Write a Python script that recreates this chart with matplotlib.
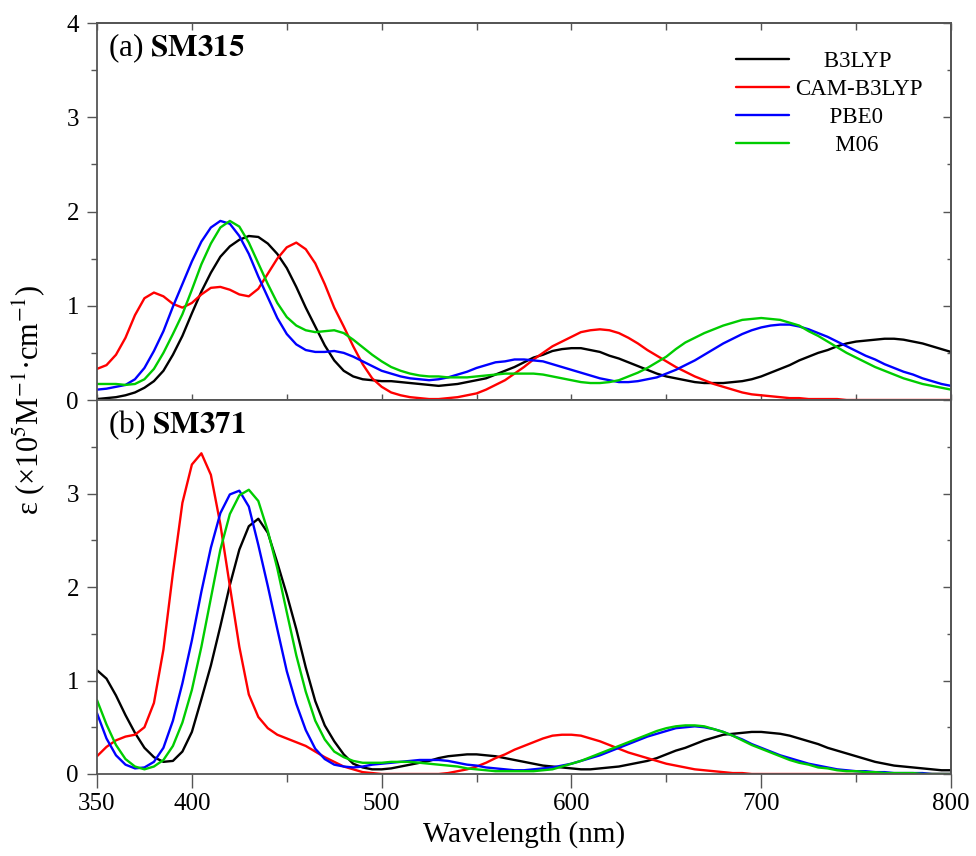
import numpy as np
import matplotlib
matplotlib.use("Agg")
import matplotlib.pyplot as plt
from matplotlib.ticker import MultipleLocator, FixedLocator

# ---------------- data ----------------
wavelength = np.arange(350, 801, 5)  # nm, 5 nm sampling grid

methods = ["B3LYP", "CAM-B3LYP", "PBE0", "M06"]
colors = ["#000000", "#ff0000", "#0000ff", "#00cc00"]

# (a) SM315  (x10^5 M^-1 cm^-1)
sm315_b3lyp = [
    0.01, 0.02, 0.03, 0.05, 0.08, 0.13, 0.20, 0.31, 0.48, 0.68,
    0.92, 1.15, 1.35, 1.52, 1.63, 1.70, 1.74, 1.73, 1.66, 1.55,
    1.40, 1.20, 0.98, 0.78, 0.58, 0.42, 0.31, 0.25, 0.22, 0.21,
    0.20, 0.20, 0.19, 0.18, 0.17, 0.16, 0.15, 0.16, 0.17, 0.19,
    0.21, 0.23, 0.27, 0.31, 0.35, 0.40, 0.45, 0.48, 0.52, 0.54,
    0.55, 0.55, 0.53, 0.51, 0.47, 0.44, 0.40, 0.36, 0.32, 0.28,
    0.25, 0.23, 0.21, 0.19, 0.18, 0.18, 0.18, 0.19, 0.20, 0.22,
    0.25, 0.29, 0.33, 0.37, 0.42, 0.46, 0.50, 0.53, 0.57, 0.60,
    0.62, 0.63, 0.64, 0.65, 0.65, 0.64, 0.62, 0.60, 0.57, 0.54,
    0.51]
sm315_camb3lyp = [
    0.33, 0.37, 0.48, 0.66, 0.90, 1.08, 1.14, 1.10, 1.02, 0.98,
    1.03, 1.12, 1.19, 1.20, 1.17, 1.12, 1.10, 1.18, 1.34, 1.50,
    1.62, 1.67, 1.60, 1.45, 1.23, 0.98, 0.78, 0.57, 0.38, 0.23,
    0.14, 0.08, 0.05, 0.03, 0.02, 0.01, 0.01, 0.02, 0.03, 0.05,
    0.07, 0.11, 0.16, 0.21, 0.28, 0.35, 0.43, 0.50, 0.57, 0.62,
    0.67, 0.72, 0.74, 0.75, 0.74, 0.71, 0.66, 0.60, 0.53, 0.47,
    0.41, 0.35, 0.30, 0.25, 0.21, 0.17, 0.14, 0.11, 0.08, 0.06,
    0.05, 0.04, 0.03, 0.02, 0.02, 0.01, 0.01, 0.01, 0.01, 0.00,
    0.00, 0.00, 0.00, 0.00, 0.00, 0.00, 0.00, 0.00, 0.00, 0.00,
    0.00]
sm315_pbe0 = [
    0.11, 0.12, 0.14, 0.16, 0.22, 0.34, 0.52, 0.73, 0.99, 1.23,
    1.47, 1.68, 1.83, 1.90, 1.87, 1.74, 1.55, 1.31, 1.09, 0.87,
    0.70, 0.59, 0.53, 0.51, 0.51, 0.52, 0.50, 0.46, 0.41, 0.36,
    0.31, 0.28, 0.25, 0.23, 0.22, 0.21, 0.22, 0.24, 0.27, 0.30,
    0.34, 0.37, 0.40, 0.41, 0.43, 0.43, 0.42, 0.41, 0.38, 0.35,
    0.32, 0.29, 0.26, 0.23, 0.21, 0.19, 0.19, 0.20, 0.22, 0.24,
    0.28, 0.32, 0.37, 0.42, 0.48, 0.54, 0.60, 0.65, 0.70, 0.74,
    0.77, 0.79, 0.80, 0.80, 0.78, 0.75, 0.71, 0.67, 0.62, 0.57,
    0.52, 0.47, 0.43, 0.38, 0.34, 0.30, 0.27, 0.23, 0.20, 0.17,
    0.15]
sm315_m06 = [
    0.17, 0.17, 0.17, 0.16, 0.17, 0.22, 0.33, 0.50, 0.70, 0.91,
    1.17, 1.44, 1.66, 1.83, 1.90, 1.84, 1.67, 1.45, 1.23, 1.03,
    0.88, 0.79, 0.74, 0.72, 0.73, 0.74, 0.71, 0.64, 0.56, 0.48,
    0.41, 0.35, 0.31, 0.28, 0.26, 0.25, 0.25, 0.24, 0.24, 0.24,
    0.25, 0.26, 0.27, 0.28, 0.28, 0.28, 0.28, 0.27, 0.25, 0.23,
    0.21, 0.19, 0.18, 0.18, 0.19, 0.21, 0.25, 0.29, 0.34, 0.40,
    0.46, 0.54, 0.61, 0.66, 0.71, 0.75, 0.79, 0.82, 0.85, 0.86,
    0.87, 0.86, 0.85, 0.82, 0.79, 0.73, 0.68, 0.62, 0.56, 0.50,
    0.45, 0.40, 0.35, 0.31, 0.27, 0.23, 0.20, 0.17, 0.15, 0.13,
    0.11]

# (b) SM371
sm371_b3lyp = [
    1.11, 1.02, 0.84, 0.63, 0.44, 0.28, 0.18, 0.13, 0.14, 0.24,
    0.45, 0.80, 1.16, 1.58, 2.02, 2.40, 2.65, 2.73, 2.58, 2.26,
    1.92, 1.55, 1.14, 0.78, 0.52, 0.35, 0.21, 0.11, 0.07, 0.05,
    0.05, 0.06, 0.08, 0.10, 0.12, 0.14, 0.17, 0.19, 0.20, 0.21,
    0.21, 0.20, 0.19, 0.17, 0.15, 0.13, 0.11, 0.09, 0.08, 0.07,
    0.06, 0.05, 0.05, 0.06, 0.07, 0.08, 0.10, 0.12, 0.14, 0.17,
    0.21, 0.25, 0.28, 0.32, 0.36, 0.39, 0.42, 0.43, 0.44, 0.45,
    0.45, 0.44, 0.43, 0.41, 0.38, 0.35, 0.32, 0.28, 0.25, 0.22,
    0.19, 0.16, 0.13, 0.11, 0.09, 0.08, 0.07, 0.06, 0.05, 0.04,
    0.04]
sm371_camb3lyp = [
    0.19, 0.29, 0.36, 0.40, 0.42, 0.50, 0.76, 1.33, 2.15, 2.90,
    3.31, 3.43, 3.20, 2.67, 2.01, 1.36, 0.85, 0.61, 0.49, 0.42,
    0.38, 0.34, 0.30, 0.24, 0.18, 0.13, 0.08, 0.05, 0.02, 0.01,
    0.00, 0.00, 0.00, 0.00, 0.00, 0.00, 0.00, 0.01, 0.03, 0.05,
    0.08, 0.12, 0.17, 0.21, 0.26, 0.30, 0.34, 0.38, 0.41, 0.42,
    0.42, 0.41, 0.38, 0.35, 0.31, 0.27, 0.23, 0.20, 0.17, 0.14,
    0.11, 0.09, 0.07, 0.05, 0.04, 0.03, 0.02, 0.01, 0.01, 0.00,
    0.00, 0.00, 0.00, 0.00, 0.00, 0.00, 0.00, 0.00, 0.00, 0.00,
    0.00, 0.00, 0.00, 0.00, 0.00, 0.00, 0.00, 0.00, 0.00, 0.00,
    0.00]
sm371_pbe0 = [
    0.65, 0.38, 0.20, 0.10, 0.06, 0.07, 0.13, 0.28, 0.57, 0.97,
    1.43, 1.95, 2.42, 2.79, 2.99, 3.03, 2.86, 2.45, 2.01, 1.55,
    1.10, 0.75, 0.47, 0.27, 0.16, 0.10, 0.08, 0.07, 0.08, 0.10,
    0.11, 0.12, 0.13, 0.14, 0.15, 0.15, 0.15, 0.14, 0.12, 0.10,
    0.09, 0.07, 0.06, 0.05, 0.04, 0.04, 0.05, 0.06, 0.07, 0.09,
    0.11, 0.14, 0.17, 0.20, 0.24, 0.28, 0.32, 0.36, 0.40, 0.43,
    0.46, 0.49, 0.50, 0.51, 0.50, 0.48, 0.45, 0.41, 0.37, 0.32,
    0.28, 0.24, 0.20, 0.17, 0.14, 0.11, 0.09, 0.07, 0.05, 0.04,
    0.03, 0.03, 0.02, 0.02, 0.01, 0.01, 0.01, 0.01, 0.00, 0.00,
    0.00]
sm371_m06 = [
    0.79, 0.53, 0.31, 0.16, 0.08, 0.05, 0.08, 0.15, 0.30, 0.55,
    0.90, 1.36, 1.88, 2.40, 2.78, 2.98, 3.04, 2.92, 2.60, 2.20,
    1.73, 1.27, 0.88, 0.57, 0.37, 0.24, 0.18, 0.14, 0.12, 0.12,
    0.12, 0.13, 0.13, 0.13, 0.12, 0.11, 0.10, 0.09, 0.08, 0.06,
    0.05, 0.04, 0.03, 0.03, 0.03, 0.03, 0.03, 0.04, 0.05, 0.08,
    0.11, 0.14, 0.18, 0.22, 0.26, 0.30, 0.34, 0.38, 0.42, 0.46,
    0.49, 0.51, 0.52, 0.52, 0.51, 0.48, 0.45, 0.41, 0.36, 0.31,
    0.27, 0.23, 0.19, 0.15, 0.12, 0.10, 0.07, 0.06, 0.04, 0.03,
    0.03, 0.02, 0.02, 0.01, 0.01, 0.01, 0.01, 0.00, 0.00, 0.00,
    0.00]

panel_labels = ["(a) ", "(b) "]
molecules = ["SM315", "SM371"]
x_ticks = [350, 400, 500, 600, 700, 800]
x_minor = [450, 550, 650, 750]
top_yticks = [0, 1, 2, 3, 4]
bottom_yticks = [0, 1, 2, 3]

# ---------------- style ----------------
plt.rcParams["font.family"] = ["Liberation Serif", "DejaVu Serif"]
plt.rcParams["mathtext.fontset"] = "stix"
frame_col = "#555555"

fig = plt.figure(figsize=(9.76, 8.56), dpi=100)
left, right = 97 / 976, 951 / 976
y_top, y_mid, y_bot = 1 - 23 / 856, 1 - 400 / 856, 1 - 774 / 856
ax1 = fig.add_axes([left, y_mid, right - left, y_top - y_mid])
ax2 = fig.add_axes([left, y_bot, right - left, y_mid - y_bot], sharex=ax1)

series = [
    [sm315_b3lyp, sm315_camb3lyp, sm315_pbe0, sm315_m06],
    [sm371_b3lyp, sm371_camb3lyp, sm371_pbe0, sm371_m06],
]

for ax, data, plab, mol in zip([ax1, ax2], series, panel_labels, molecules):
    for vals, col, name in zip(data, colors, methods):
        ax.plot(wavelength, vals, color=col, lw=1.7, label=name,
                solid_capstyle="round", solid_joinstyle="round")
    ax.set_xlim(350, 800)
    ax.set_ylim(0, 4)
    for sp in ax.spines.values():
        sp.set_color(frame_col)
        sp.set_linewidth(1.3)
    ax.text(0.013, 0.932, plab + r"$\mathbf{" + mol + "}$", transform=ax.transAxes,
            fontsize=22.5, ha="left", va="center")
    ax.tick_params(axis="y", which="major", direction="out", length=7, width=1.0,
                   color=frame_col, labelsize=18, pad=6, right=False)
    ax.tick_params(axis="y", which="minor", direction="out", length=4, width=1.0,
                   color=frame_col, right=False)
    sec = ax.secondary_yaxis("right")
    sec.tick_params(axis="y", which="major", direction="in", length=6, width=1.0,
                    color=frame_col, labelright=False)
    sec.tick_params(axis="y", which="minor", direction="in", length=3, width=1.0,
                    color=frame_col)
    sec.spines["right"].set_color(frame_col)
    sec.spines["right"].set_linewidth(1.3)
    sec.yaxis.set_major_locator(MultipleLocator(1))
    sec.yaxis.set_minor_locator(MultipleLocator(0.5))
    sec.set_yticklabels([])

ax1.yaxis.set_major_locator(FixedLocator(top_yticks))
ax1.yaxis.set_minor_locator(MultipleLocator(0.5))
ax2.yaxis.set_major_locator(FixedLocator(bottom_yticks))
ax2.yaxis.set_minor_locator(FixedLocator([0.5, 1.5, 2.5, 3.5]))

ax1.xaxis.set_major_locator(FixedLocator(x_ticks))
ax1.xaxis.set_minor_locator(FixedLocator(x_minor))
ax1.tick_params(axis="x", which="both", direction="in", length=4, width=1.0,
                color=frame_col, labelbottom=False)
secx = ax1.secondary_xaxis("top")
secx.xaxis.set_major_locator(FixedLocator(x_ticks))
secx.xaxis.set_minor_locator(FixedLocator(x_minor))
secx.tick_params(axis="x", which="both", direction="in", length=5, width=1.0,
                 color=frame_col, labeltop=False)
secx.spines["top"].set_color(frame_col)
secx.spines["top"].set_linewidth(1.3)

ax2.tick_params(axis="x", which="major", direction="out", length=10, width=1.0,
                color=frame_col, labelsize=18, pad=4)
ax2.tick_params(axis="x", which="minor", direction="out", length=6, width=1.0,
                color=frame_col)
ax2.set_xlabel("Wavelength (nm)", fontsize=21, labelpad=4)

fig.text(0.029, 1 - 400 / 856, "\u03b5 (\u00d710$^{5}$M$^{-1}$\u00b7cm$^{-1}$)",
         rotation=90, ha="center", va="center", fontsize=22)

# legend with centred labels
leg_labels = ["     B3LYP", "CAM-B3LYP", "      PBE0", "       M06"]
handles = ax1.get_lines()
leg = ax1.legend(handles, leg_labels, loc="upper left", bbox_to_anchor=(0.748, 0.925),
                 frameon=False, fontsize=16.5, handlelength=2.3, handletextpad=0.3,
                 labelspacing=0.3, borderaxespad=0, borderpad=0)

fig.savefig("out.png", dpi=100)
